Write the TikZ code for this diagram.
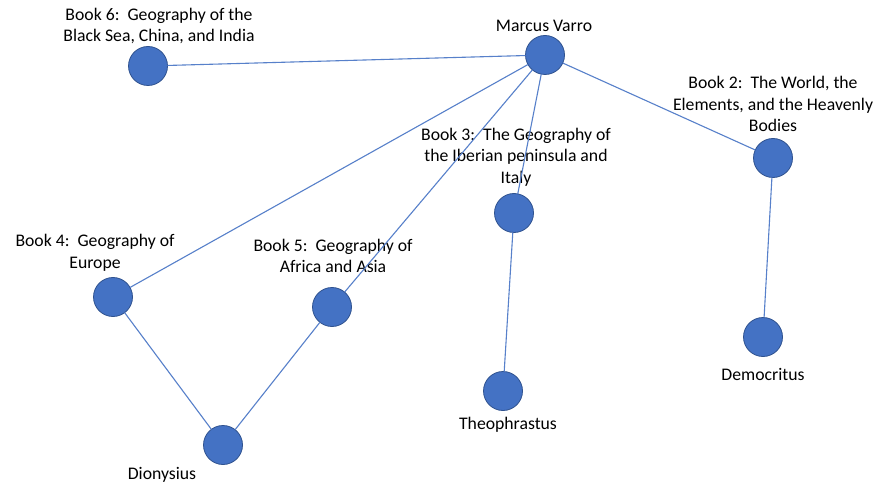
\documentclass[tikz,border=0pt]{standalone}
\usepackage{fontspec}
\setmainfont{Carlito}
\usepackage{tikz}
\definecolor{varroblue}{HTML}{4472C4}
\definecolor{varroborder}{HTML}{2F528F}
\tikzstyle{work}=[circle, draw=varroborder, fill=varroblue, line width=0.8pt, inner sep=0, outer sep=0, minimum size=39pt]
\tikzstyle{worktext}=[align=center, inner sep=0, text=black, font=\fontsize{17.7}{21.6}\selectfont]
\tikzstyle{link}=[draw=varroblue!90!white, line width=1.1pt]
\tikzstyle{varronetwork}=[x=1pt, y=-1pt,
                          % Keep the page as large as the reference.
                          execute at begin picture={\useasboundingbox[fill=white] (0, 0) rectangle (880, 486);}]

\begin{document}
\begin{tikzpicture}[varronetwork]
        \node[work]     (Varro)        at (545, 55)  {};
        \node[work]     (Book6)        at (148, 66)  {};
        \node[work]     (Book2)        at (773, 158) {};
        \node[work]     (Book3)        at (514, 213) {};
        \node[work]     (Book4)        at (113, 297) {};
        \node[work]     (Book5)        at (332, 307) {};
        \node[work]     (Dionysius)    at (223, 445) {};
        \node[work]     (Theophrastus) at (503, 391) {};
        \node[work]     (Democritus)   at (763, 337) {};
        \node[worktext] (Varrotext)        at (544, 26)  {Marcus Varro};
        \node[worktext] (Book6text)        at (159, 26)  {Book 6:\ \ Geography of the\\Black Sea, China, and India};
        \node[worktext] (Book2text)        at (773, 104) {Book 2:\ \ The World, the\\Elements, and the Heavenly\\Bodies};
        \node[worktext] (Book3text)        at (516, 157) {Book 3:\ \ The Geography of\\the Iberian peninsula and\\Italy};
        \node[worktext] (Book4text)        at (95, 253)  {Book 4:\ \ Geography of\\Europe};
        \node[worktext] (Book5text)        at (333, 256) {Book 5:\ \ Geography of\\Africa and Asia};
        \node[worktext] (Dionysiustext)    at (162, 475) {Dionysius};
        \node[worktext] (Theophrastustext) at (508, 425) {Theophrastus};
        \node[worktext] (Democritustext)   at (763, 374) {Democritus};
        \draw[link] (Varro) -- (Book6);
        \draw[link] (Varro) -- (Book4);
        \draw[link] (Varro) -- (Book5);
        \draw[link] (Varro) -- (Book3);
        \draw[link] (Varro) -- (Book2);
        \draw[link] (Book4) -- (Dionysius) -- (Book5);
        \draw[link] (Book3) -- (Theophrastus);
        \draw[link] (Book2) -- (Democritus);
    \end{tikzpicture}
\end{document}
